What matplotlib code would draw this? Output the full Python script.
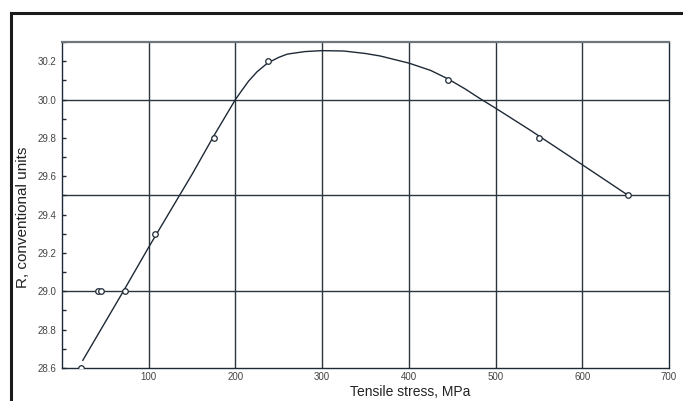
import matplotlib
matplotlib.use("Agg")
import matplotlib.pyplot as plt
from matplotlib.ticker import MultipleLocator, FixedLocator, FormatStrFormatter
import matplotlib.lines as mlines

plt.rcParams['font.family'] = ['Liberation Sans', 'DejaVu Sans']

# measured points
stress = [22, 41, 45, 73, 107, 175, 238, 445, 550, 653]
R = [28.6, 29.0, 29.0, 29.0, 29.3, 29.8, 30.2, 30.1, 29.8, 29.5]

# fitted curve
curve_x = [24, 72, 100, 150, 175, 200, 207, 215, 225, 237, 250, 260, 280,
           300, 325, 350, 367, 400, 425, 445, 465, 482, 500, 540, 600, 653]
curve_y = [28.64, 29.01, 29.23, 29.61, 29.81, 30.0, 30.045, 30.095, 30.145,
           30.19, 30.22, 30.237, 30.25, 30.255, 30.253, 30.24, 30.227, 30.19,
           30.152, 30.108, 30.055, 30.005, 29.955, 29.84, 29.66, 29.50]

x_ticks = [100, 200, 300, 400, 500, 600, 700]
x_grid = [100, 200, 300, 400, 500, 600]
y_grid = [29.0, 29.5, 30.0]

dark = '#1e2a36'
fig = plt.figure(figsize=(6.83, 4.01), dpi=100)
ax = fig.add_axes([62 / 683, 1 - 368 / 401, 607 / 683, 326 / 401])

ax.set_xlim(0, 700)
ax.set_ylim(28.6, 30.3)

for gx in x_grid:
    ax.axvline(gx, color='#2a3540', lw=1.0, zorder=1)
for gy in y_grid:
    ax.axhline(gy, color='#2a3540', lw=1.0, zorder=1)

ax.plot(curve_x, curve_y, color=dark, lw=1.0, zorder=3)
ax.plot(stress, R, linestyle='none', marker='o', markersize=4,
        markerfacecolor='white', markeredgecolor=dark, markeredgewidth=0.9, zorder=4)

ax.xaxis.set_major_locator(FixedLocator(x_ticks))
ax.yaxis.set_major_locator(MultipleLocator(0.2))
ax.yaxis.set_minor_locator(MultipleLocator(0.1))
ax.yaxis.set_major_formatter(FormatStrFormatter('%.1f'))
ax.tick_params(axis='x', length=0, pad=3, labelsize=7, labelcolor='#444444')
ax.tick_params(axis='y', which='both', direction='in', length=3, width=1,
               color=dark, pad=4, labelsize=7, labelcolor='#444444')

for s in ['left', 'bottom', 'right']:
    ax.spines[s].set_color(dark)
    ax.spines[s].set_linewidth(1.0)
ax.spines['top'].set_color('#6e767e')
ax.spines['top'].set_linewidth(1.6)

ax.set_xlabel('Tensile stress, MPa', fontsize=10, color='#222222')
ax.xaxis.set_label_coords(0.573, -0.052)
ax.set_ylabel('R, conventional units', fontsize=11, color='#222222')
ax.yaxis.set_label_coords(-0.052, 0.463)

# outer frame (top and left edges visible)
fig.add_artist(mlines.Line2D([11 / 683, 11 / 683], [0, 1 - 13 / 401],
                             transform=fig.transFigure, color='#1a1a1a', lw=2.2))
fig.add_artist(mlines.Line2D([11 / 683, 1], [1 - 13 / 401, 1 - 13 / 401],
                             transform=fig.transFigure, color='#1a1a1a', lw=2.2))

fig.savefig('out.png', dpi=100)
